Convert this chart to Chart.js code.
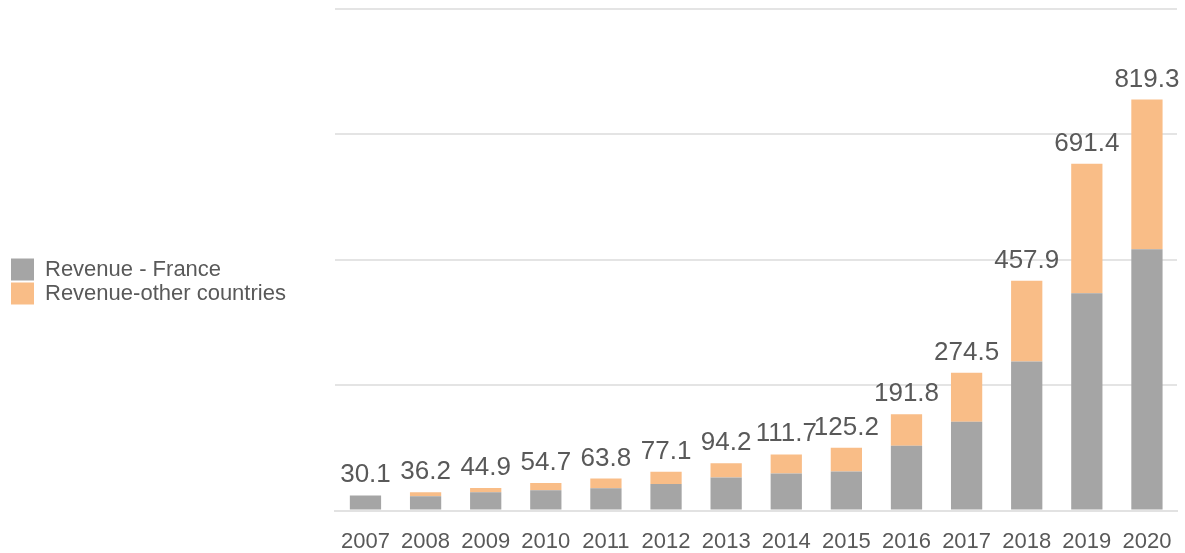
<!DOCTYPE html>
<html>
<head>
<meta charset="utf-8">
<script src="https://cdn.jsdelivr.net/npm/chart.js@4.4.1/dist/chart.umd.min.js"></script>
<style>
    html, body { margin: 0; padding: 0; background: #ffffff; }
    #wrap { width: 1185px; height: 553px; position: relative; }
</style>
</head>
<body>
<div id="wrap"><canvas id="revenueChart"></canvas></div>
<script>
// Chart data
const years = ['2007', '2008', '2009', '2010', '2011', '2012', '2013', '2014', '2015', '2016', '2017', '2018', '2019', '2020'];
const revenueFrance = [30.1, 28.5, 36.5, 40.5, 44.5, 53.0, 66.0, 74.0, 78.0, 129.0, 177.0, 297.0, 433.0, 521.0];
const revenueOther = [0.0, 7.7, 8.4, 14.2, 19.3, 24.1, 28.2, 37.7, 47.2, 62.8, 97.5, 160.9, 258.4, 298.3];
const seriesNames = ['Revenue - France', 'Revenue-other countries'];
const seriesColors = ['#A5A5A5', '#F9BD87'];

const FONT = '"Liberation Sans", Arial, sans-serif';
const TEXT_COLOR = '#595959';

// Draws the stack total above each bar
const totalLabels = {
    id: 'totalLabels',
    afterDatasetsDraw(chart) {
        const ctx = chart.ctx;
        const topMeta = chart.getDatasetMeta(chart.data.datasets.length - 1);
        ctx.save();
        ctx.font = '26px ' + FONT;
        ctx.fillStyle = TEXT_COLOR;
        ctx.textAlign = 'center';
        ctx.textBaseline = 'alphabetic';
        topMeta.data.forEach((bar, i) => {
            const total = revenueFrance[i] + revenueOther[i];
            ctx.fillText(total.toFixed(1), bar.x, bar.y - 13);
        });
        ctx.restore();
    }
};

new Chart(document.getElementById('revenueChart'), {
    type: 'bar',
    data: {
        labels: years,
        datasets: [
            {
                label: seriesNames[0],
                data: revenueFrance,
                backgroundColor: seriesColors[0],
                borderWidth: 0
            },
            {
                label: seriesNames[1],
                data: revenueOther,
                backgroundColor: seriesColors[1],
                borderWidth: 0
            }
        ]
    },
    options: {
        responsive: true,
        maintainAspectRatio: false,
        animation: false,
        layout: {
            padding: { left: 9, top: 9, right: 8, bottom: -1 }
        },
        plugins: {
            legend: {
                position: 'left',
                labels: {
                    boxWidth: 23,
                    boxHeight: 22,
                    padding: 2,
                    color: TEXT_COLOR,
                    font: { family: FONT, size: 22 }
                }
            },
            tooltip: { enabled: false }
        },
        datasets: {
            bar: {
                categoryPercentage: 0.52,
                barPercentage: 1
            }
        },
        scales: {
            x: {
                stacked: true,
                grid: { display: false, drawTicks: false },
                border: { display: true, color: '#e2e2e2', width: 2 },
                ticks: {
                    color: TEXT_COLOR,
                    padding: 18,
                    maxRotation: 0,
                    autoSkip: false,
                    font: { family: FONT, size: 22 }
                },
                afterFit(scale) {
                    scale.height = 43.5;
                    scale.paddingLeft = 0;
                    scale.paddingRight = 0;
                }
            },
            y: {
                stacked: true,
                min: 0,
                max: 1000,
                grid: { color: '#e4e4e4', lineWidth: 2, drawTicks: false },
                border: { display: false },
                ticks: { display: false, stepSize: 250 },
                afterFit(scale) {
                    scale.width = 39.5;
                }
            }
        }
    },
    plugins: [totalLabels]
});
</script>
</body>
</html>
